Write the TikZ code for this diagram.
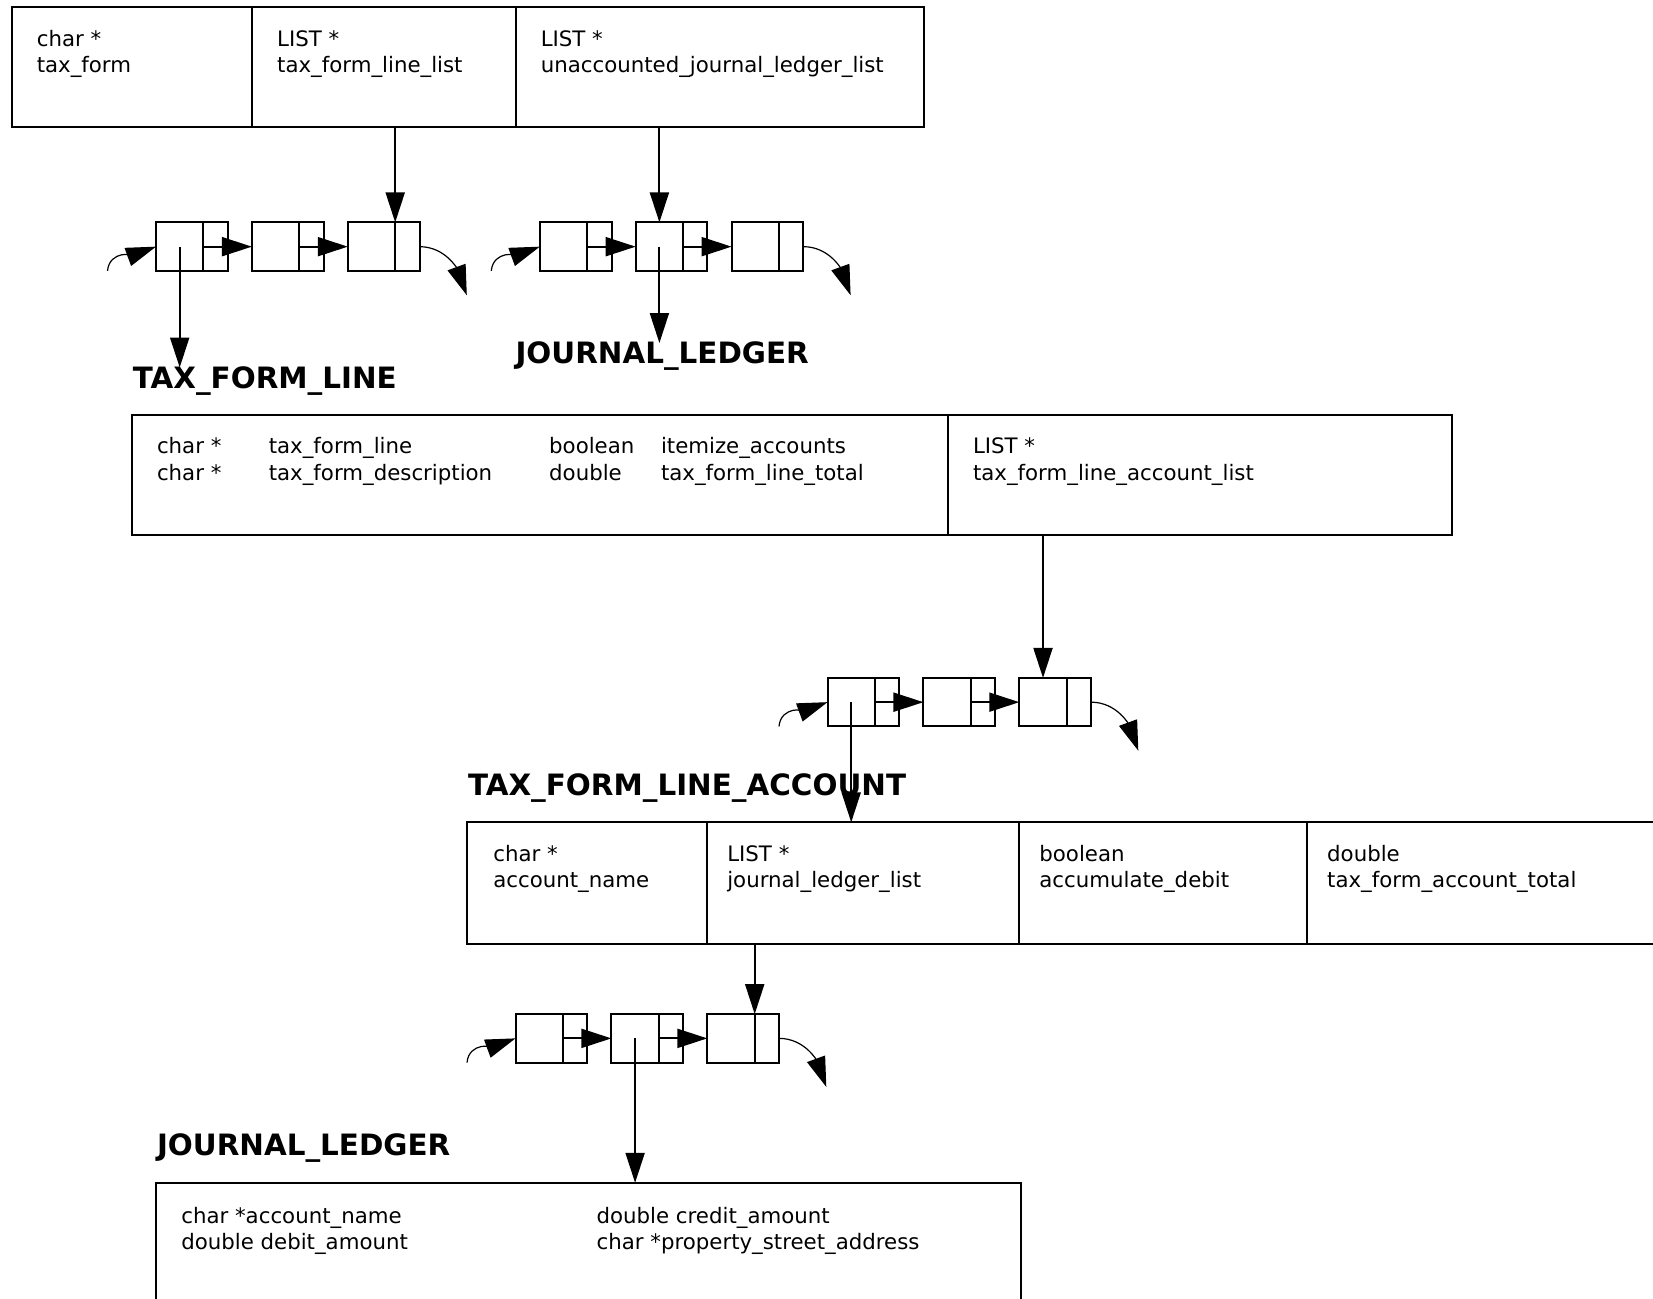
\documentclass[tikz,border=0pt]{standalone}
\usepackage{fontspec}
\setmainfont{DejaVu Sans}
\usetikzlibrary{arrows.meta,fit}
\begin{document}
\begin{tikzpicture}[x=0.5pt,y=-0.5pt,line width=1pt,
  arr/.style={-{Triangle[length=15pt,width=9.5pt]}},
  carr/.style={line width=0.6pt,-{Triangle[length=15pt,width=9.5pt]}},
  fld/.style={draw,inner sep=0pt,outer sep=0pt},
  lnode/.style={draw,inner sep=0pt,outer sep=0pt,minimum width=35.85pt,minimum height=24.25pt,anchor=north west},
  txt/.style={font=\fontsize{10.65pt}{13.2pt}\selectfont,anchor=base west,inner sep=0pt},
  lbl/.style={font=\fontsize{14.7pt}{17pt}\selectfont\bfseries,anchor=west,inner sep=0pt}]
\useasboundingbox (0,0) rectangle (1653,1298);
\clip (0,0) rectangle (1653,1298);
% list node macro
\newcommand\mylnode[3]{%
  \node[lnode] (#1) at (#2,#3) {};
  \draw ([xshift=23.7pt]#1.north west) -- ([xshift=23.7pt]#1.south west);}
\newcommand\mylist[3]{% prefix, x, y
  \mylnode{#1a}{#2}{#3}
  \mylnode{#1b}{#2+95.9}{#3}
  \mylnode{#1c}{#2+191.8}{#3}
  \draw[arr] ([xshift=23.7pt]#1a.west) -- (#1b.west);
  \draw[arr] ([xshift=23.7pt]#1b.west) -- (#1c.west);
  \draw[carr] ([xshift=-24.25pt]#1a.south west) to[out=85,in=200] (#1a.west);
  \draw[carr] (#1c.east) to[out=0,in=110] ([xshift=23.65pt,yshift=-24.3pt]#1c.east);}
\newcommand\mytwo[5]{% name, x, baseline y, line1, line2
  \node[txt] (#1a) at (#2,#3) {#4};
  \node[txt] (#1b) at (#2,#3+26.4) {#5};}

% top struct
\node[fld,fit={(11.6,7.4) (252,126.5)}] (t1) {};
\node[fld,fit={(252,7.4) (515.5,126.5)}] (t2) {};
\node[fld,fit={(515.5,7.4) (923.5,126.5)}] (t3) {};
\mytwo{t1t}{35.8}{46.3}{char *}{tax\_form}
\mytwo{t2t}{276.2}{46.3}{LIST *}{tax\_form\_line\_list}
\mytwo{t3t}{539.8}{46.3}{LIST *}{unaccounted\_journal\_ledger\_list}

% list 1 and 2
\mylist{la}{156}{222.4}
\mylist{lb}{539.8}{222.4}
\draw[arr] ([xshift=23.7pt]lac.north west |- t2.south) -- ([xshift=23.7pt]lac.north west);
\draw[arr] ([xshift=11.85pt]lbb.north west |- t3.south) -- ([xshift=11.85pt]lbb.north west);

% labels
\node[lbl] (tflname) at (131.8,380.6) {TAX\_FORM\_LINE};
\node[lbl] (jl1name) at (514.5,356.3) {JOURNAL\_LEDGER};
\coordinate (tip1) at ([xshift=11.85pt]laa.south west |- 0,367.5);
\coordinate (tip2) at ([xshift=11.85pt]lbb.south west |- 0,343);
\draw[arr] ([xshift=11.85pt]laa.west) -- (tip1);
\draw[arr] ([xshift=11.85pt]lbb.west) -- (tip2);

% TAX_FORM_LINE struct
\node[fld,fit={(131.8,415.4) (947.7,534.5)}] (f1) {};
\node[fld,fit={(947.7,415.4) (1451.6,534.5)}] (f2) {};
\mytwo{f1a}{156}{453.7}{char *}{char *}
\mytwo{f1b}{267.8}{453.7}{tax\_form\_line}{tax\_form\_description}
\mytwo{f1c}{548.2}{453.7}{boolean}{double}
\mytwo{f1d}{660}{453.7}{itemize\_accounts}{tax\_form\_line\_total}
\mytwo{f2a}{972}{453.7}{LIST *}{tax\_form\_line\_account\_list}

% list 3
\mylist{lc}{827.5}{677.9}
\draw[arr] ([xshift=11.85pt]lcc.north west |- f2.south) -- ([xshift=11.85pt]lcc.north west);

\node[lbl] (tflaname) at (467,788.5) {TAX\_FORM\_LINE\_ACCOUNT};

% TAX_FORM_LINE_ACCOUNT struct
\node[fld,fit={(467,822.3) (707.4,943.5)}] (a1) {};
\node[fld,fit={(707.4,822.3) (1019.4,943.5)}] (a2) {};
\node[fld,fit={(1019.4,822.3) (1307.2,943.5)}] (a3) {};
\node[fld,fit={(1307.2,822.3) (1680,943.5)}] (a4) {};
\mytwo{a1t}{492.3}{861.3}{char *}{account\_name}
\mytwo{a2t}{726.3}{861.3}{LIST *}{journal\_ledger\_list}
\mytwo{a3t}{1038.4}{861.3}{boolean}{accumulate\_debit}
\mytwo{a4t}{1326.2}{861.3}{double}{tax\_form\_account\_total}
\draw[arr] ([xshift=11.85pt]lca.west) -- ([xshift=11.85pt]lca.west |- a2.north);

% list 4
\mylist{ld}{515.5}{1014.1}
\draw[arr] ([xshift=23.7pt]ldc.north west |- a2.south) -- ([xshift=23.7pt]ldc.north west);

\node[lbl] (jl2name) at (156,1148) {JOURNAL\_LEDGER};

% JOURNAL_LEDGER struct
\node[fld,fit={(156,1182.8) (1020.5,1330)}] (j1) {};
\mytwo{j1a}{180.3}{1223}{char *account\_name}{double debit\_amount}
\mytwo{j1b}{595.6}{1223}{double credit\_amount}{char *property\_street\_address}
\draw[arr] ([xshift=11.85pt]ldb.west) -- ([xshift=11.85pt]ldb.west |- j1.north);
\end{tikzpicture}
\end{document}
